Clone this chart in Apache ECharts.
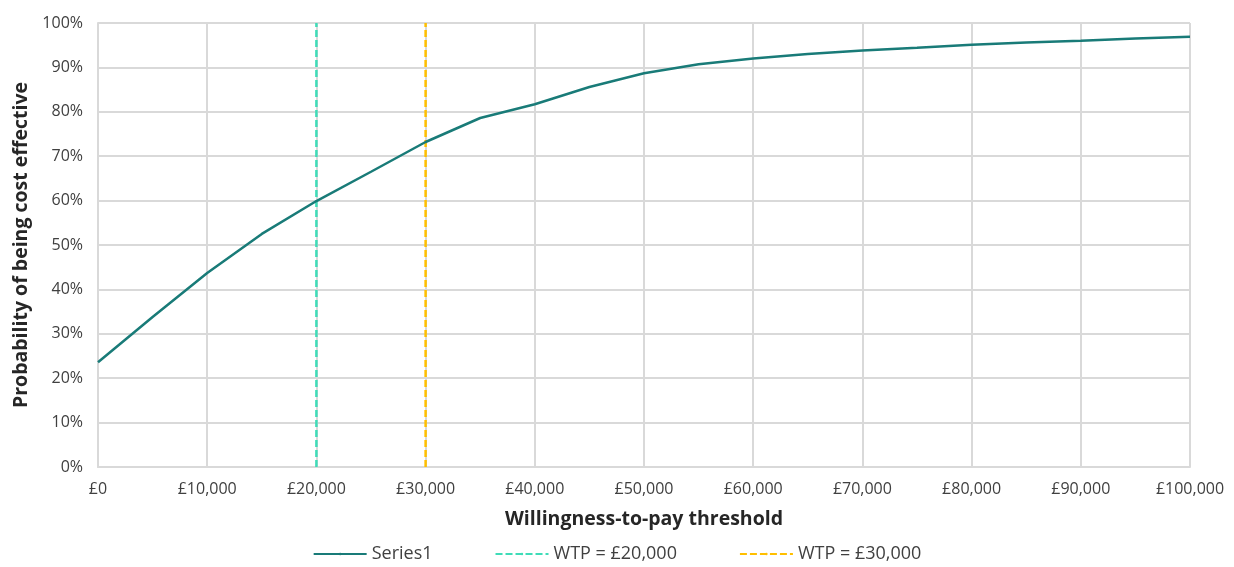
<!DOCTYPE html>
<html><head><meta charset="utf-8">
<script src="https://cdn.jsdelivr.net/npm/echarts@6/dist/echarts.min.js"></script>
<style>html,body{margin:0;padding:0;background:#fff}#c{width:1234px;height:567px}</style>
</head><body><div id="c"></div>
<script>
const wtp = [0,5000,10000,15000,20000,25000,30000,35000,40000,45000,50000,55000,60000,65000,70000,75000,80000,85000,90000,95000,100000];
const prob = [23.6,33.8,43.7,52.5,59.9,66.5,73.2,78.6,81.7,85.6,88.7,90.7,92.0,93.0,93.8,94.4,95.1,95.6,96.0,96.5,96.9];
const thresholds = [20000, 30000];
const seriesNames = ['Series1','WTP = £20,000','WTP = £30,000'];
const colors = ['#197b78','#3fdcb8','#ffbf00'];
const font = 'Open Sans';
const chart = echarts.init(document.getElementById('c'));
chart.setOption({
  animation:false,
  grid:{left:98,right:44,top:23,bottom:100},
  xAxis:{type:'value',min:0,max:100000,interval:10000,
    name:'Willingness-to-pay threshold',nameLocation:'middle',nameGap:42,
    nameTextStyle:{fontFamily:font,fontSize:19.5,fontWeight:'bold',color:'#262626'},
    axisLine:{lineStyle:{color:'#d9d9d9',width:2}},axisTick:{show:false},
    axisLabel:{fontFamily:font,fontSize:16,color:'#404040',margin:14,
      formatter:v=>'£'+v.toLocaleString('en-GB')},
    splitLine:{show:true,lineStyle:{color:'#d9d9d9',width:2}}},
  yAxis:{type:'value',min:0,max:100,interval:10,
    name:'Probability of being cost effective',nameLocation:'middle',nameGap:65,
    nameTextStyle:{fontFamily:font,fontSize:19.5,fontWeight:'bold',color:'#262626'},
    axisLine:{show:true,lineStyle:{color:'#d9d9d9',width:2}},axisTick:{show:false},
    axisLabel:{fontFamily:font,fontSize:16,color:'#404040',margin:15,formatter:'{value}%'},
    splitLine:{lineStyle:{color:'#d9d9d9',width:2}}},
  legend:{top:545,left:'center',itemGap:62,itemWidth:53,itemHeight:3,padding:0,
    textStyle:{fontFamily:font,fontSize:18,color:'#404040'},
    data:seriesNames},
  series:[
    {name:seriesNames[0],type:'line',symbol:'none',data:wtp.map((x,i)=>[x,prob[i]]),
     lineStyle:{color:colors[0],width:2.5},itemStyle:{color:colors[0]}},
    {name:seriesNames[1],type:'line',symbol:'none',data:[[thresholds[0],0],[thresholds[0],100]],
     lineStyle:{color:colors[1],width:2.5,type:[7,3]},itemStyle:{color:colors[1]},z:1},
    {name:seriesNames[2],type:'line',symbol:'none',data:[[thresholds[1],0],[thresholds[1],100]],
     lineStyle:{color:colors[2],width:2.5,type:[7,3]},itemStyle:{color:colors[2]},z:1}
  ]
});
</script></body></html>
